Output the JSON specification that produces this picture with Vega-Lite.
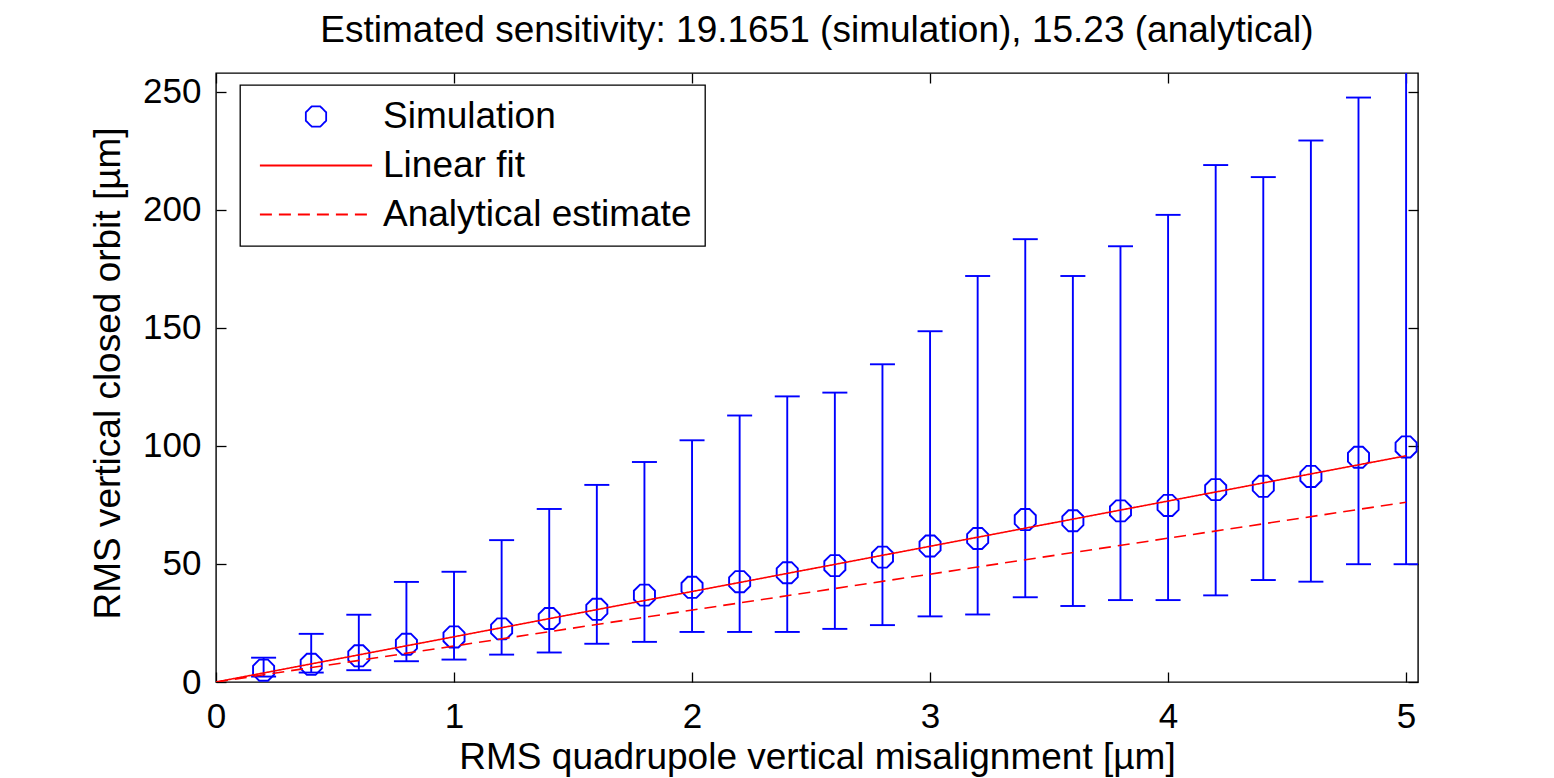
{
  "$schema": "https://vega.github.io/schema/vega-lite/v6.json",
  "width": 1202,
  "height": 609,
  "autosize": {"type": "none"},
  "padding": {"left": 216, "top": 73, "right": 136, "bottom": 96},
  "background": "white",
  "title": {
    "text": "Estimated sensitivity: 19.1651 (simulation), 15.23 (analytical)",
    "fontSize": 37,
    "font": "Liberation Sans",
    "fontWeight": "normal",
    "color": "black",
    "offset": -7,
    "baseline": "alphabetic",
    "anchor": "middle"
  },
  "config": {
    "font": "Liberation Sans",
    "view": {"stroke": "black", "strokeWidth": 1.4},
    "legend": {
      "strokeColor": "black",
      "fillColor": "white",
      "strokeWidth": 1.3,
      "padding": 13,
      "labelFont": "Liberation Sans",
      "labelFontSize": 37,
      "labelColor": "black",
      "symbolSize": 484,
      "symbolStrokeWidth": 1.8,
      "symbolOffset": 44.5,
      "labelOffset": 48.5,
      "rowPadding": 11,
      "labelLimit": 600
    }
  },
  "datasets": {
    "sim": [
      {"series": "Simulation", "x": 0.2, "y": 5.0, "lo": 2.3, "hi": 10.3},
      {"series": "Simulation", "x": 0.4, "y": 7.5, "lo": 4.0, "hi": 20.4},
      {"series": "Simulation", "x": 0.6, "y": 11.1, "lo": 5.0, "hi": 28.5},
      {"series": "Simulation", "x": 0.8, "y": 16.0, "lo": 8.8, "hi": 42.4},
      {"series": "Simulation", "x": 1.0, "y": 19.1, "lo": 9.5, "hi": 46.7},
      {"series": "Simulation", "x": 1.2, "y": 22.5, "lo": 11.6, "hi": 60.1},
      {"series": "Simulation", "x": 1.4, "y": 26.9, "lo": 12.5, "hi": 73.3},
      {"series": "Simulation", "x": 1.6, "y": 30.8, "lo": 16.2, "hi": 83.5},
      {"series": "Simulation", "x": 1.8, "y": 36.8, "lo": 17.0, "hi": 93.2},
      {"series": "Simulation", "x": 2.0, "y": 40.1, "lo": 21.2, "hi": 102.4},
      {"series": "Simulation", "x": 2.2, "y": 42.5, "lo": 21.2, "hi": 112.9},
      {"series": "Simulation", "x": 2.4, "y": 46.3, "lo": 21.2, "hi": 121.0},
      {"series": "Simulation", "x": 2.6, "y": 49.3, "lo": 22.5, "hi": 122.6},
      {"series": "Simulation", "x": 2.8, "y": 52.9, "lo": 24.1, "hi": 134.6},
      {"series": "Simulation", "x": 3.0, "y": 57.6, "lo": 27.8, "hi": 148.6},
      {"series": "Simulation", "x": 3.2, "y": 60.8, "lo": 28.6, "hi": 172.0},
      {"series": "Simulation", "x": 3.4, "y": 68.8, "lo": 35.9, "hi": 187.6},
      {"series": "Simulation", "x": 3.6, "y": 68.3, "lo": 32.2, "hi": 172.0},
      {"series": "Simulation", "x": 3.8, "y": 72.5, "lo": 34.7, "hi": 184.6},
      {"series": "Simulation", "x": 4.0, "y": 74.8, "lo": 34.7, "hi": 197.9},
      {"series": "Simulation", "x": 4.2, "y": 81.5, "lo": 36.7, "hi": 219.0},
      {"series": "Simulation", "x": 4.4, "y": 82.9, "lo": 43.2, "hi": 213.9},
      {"series": "Simulation", "x": 4.6, "y": 87.1, "lo": 42.5, "hi": 229.4},
      {"series": "Simulation", "x": 4.8, "y": 95.2, "lo": 49.9, "hi": 247.6},
      {"series": "Simulation", "x": 5.0, "y": 99.6, "lo": 49.9, "hi": 300.0}
    ],
    "lines": [
      {"series": "Linear fit", "x": 0, "y": 0},
      {"series": "Linear fit", "x": 5, "y": 95.83},
      {"series": "Analytical estimate", "x": 0, "y": 0},
      {"series": "Analytical estimate", "x": 5, "y": 76.15}
    ]
  },
  "layer": [
    {
      "data": {"name": "sim"},
      "mark": {"type": "rule", "color": "#0000ff", "strokeWidth": 1.9, "clip": true},
      "encoding": {
        "x": {
          "field": "x", "type": "quantitative",
          "scale": {"domain": [0, 5.05], "nice": false, "zero": false},
          "axis": {
            "orient": "bottom", "offset": -10, "domain": false, "grid": false,
            "tickSize": 10, "tickColor": "black", "tickWidth": 1.3,
            "values": [0, 1, 2, 3, 4, 5], "format": "d",
            "labelFontSize": 35, "labelColor": "black", "labelPadding": 17,
            "labelFlush": false, "labelOverlap": false,
            "title": "RMS quadrupole vertical misalignment [µm]",
            "titleFontSize": 37, "titleFontWeight": "normal", "titleColor": "black",
            "titleY": 96, "titleBaseline": "alphabetic"
          }
        },
        "y": {
          "field": "lo", "type": "quantitative",
          "scale": {"domain": [0, 258], "nice": false, "zero": false},
          "axis": {
            "orient": "left", "offset": -10, "domain": false, "grid": false,
            "tickSize": 10, "tickColor": "black", "tickWidth": 1.3,
            "values": [0, 50, 100, 150, 200, 250], "format": "d",
            "labelFontSize": 35, "labelColor": "black", "labelPadding": 15,
            "labelFlush": false, "labelOverlap": false,
            "title": "RMS vertical closed orbit [µm]",
            "titleFontSize": 37, "titleFontWeight": "normal", "titleColor": "black",
            "titleX": -107, "titleY": 300, "titleAngle": 270, "titleBaseline": "alphabetic"
          }
        },
        "y2": {"field": "hi"}
      }
    },
    {
      "data": {"name": "sim"},
      "mark": {"type": "tick", "orient": "horizontal", "color": "#0000ff", "size": 25, "thickness": 1.9, "opacity": 1, "clip": true},
      "encoding": {
        "x": {"field": "x", "type": "quantitative", "axis": null},
        "y": {"field": "hi", "type": "quantitative", "axis": null}
      }
    },
    {
      "data": {"name": "sim"},
      "mark": {"type": "tick", "orient": "horizontal", "color": "#0000ff", "size": 25, "thickness": 1.9, "opacity": 1, "clip": true},
      "encoding": {
        "x": {"field": "x", "type": "quantitative", "axis": null},
        "y": {"field": "lo", "type": "quantitative", "axis": null}
      }
    },
    {
      "data": {"name": "sim"},
      "mark": {"type": "point", "filled": false, "strokeWidth": 1.9, "size": 520, "opacity": 1},
      "encoding": {
        "x": {"field": "x", "type": "quantitative", "axis": null},
        "y": {"field": "y", "type": "quantitative", "axis": null},
        "color": {
          "field": "series", "type": "nominal",
          "scale": {"domain": ["Simulation", "Linear fit", "Analytical estimate"], "range": ["#0000ff", "#ff0000", "#ff0000"]},
          "legend": {"orient": "none", "legendX": 24, "legendY": 12, "title": null}
        },
        "shape": {
          "field": "series", "type": "nominal",
          "scale": {
            "domain": ["Simulation", "Linear fit", "Analytical estimate"],
            "range": [
              "M0.383,-0.924L0.924,-0.383L0.924,0.383L0.383,0.924L-0.383,0.924L-0.924,0.383L-0.924,-0.383L-0.383,-0.924Z",
              "M-5.1,0L5.1,0",
              "M-5.1,0L5.1,0"
            ]
          },
          "legend": {"orient": "none", "legendX": 24, "legendY": 12, "title": null}
        }
      }
    },
    {
      "data": {"name": "lines"},
      "mark": {"type": "line", "strokeWidth": 1.6, "clip": true},
      "encoding": {
        "x": {
          "field": "x", "type": "quantitative",
          "axis": {"orient": "top", "offset": -10, "domain": false, "grid": false, "tickSize": 10, "tickColor": "black", "tickWidth": 1.3, "values": [0, 1, 2, 3, 4, 5], "labels": false, "title": null}
        },
        "y": {
          "field": "y", "type": "quantitative",
          "axis": {"orient": "right", "offset": -10, "domain": false, "grid": false, "tickSize": 10, "tickColor": "black", "tickWidth": 1.3, "values": [0, 50, 100, 150, 200, 250], "labels": false, "title": null}
        },
        "color": {
          "field": "series", "type": "nominal",
          "scale": {"domain": ["Simulation", "Linear fit", "Analytical estimate"], "range": ["#0000ff", "#ff0000", "#ff0000"]},
          "legend": {"orient": "none", "legendX": 24, "legendY": 12, "title": null}
        },
        "strokeDash": {
          "field": "series", "type": "nominal",
          "scale": {"domain": ["Simulation", "Linear fit", "Analytical estimate"], "range": [[1, 0], [1, 0], [12, 7]]},
          "legend": {"orient": "none", "legendX": 24, "legendY": 12, "title": null}
        }
      }
    }
  ],
  "resolve": {"axis": {"x": "independent", "y": "independent"}}
}
